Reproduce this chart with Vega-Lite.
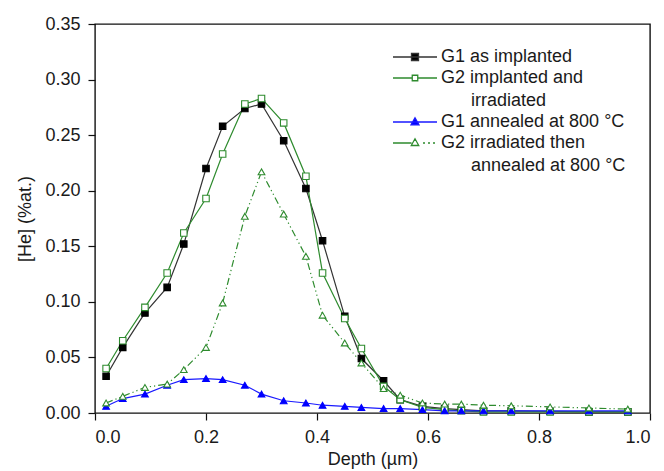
{
  "$schema": "https://vega.github.io/schema/vega-lite/v6.json",
  "width": 555,
  "height": 389,
  "autosize": {"type": "none"},
  "padding": {"left": 95, "top": 24, "right": 14, "bottom": 58},
  "background": "#ffffff",
  "data": {
    "values": [
      {"series": "G1 as implanted", "depth": 0.02, "he": 0.033},
      {"series": "G1 as implanted", "depth": 0.05, "he": 0.059},
      {"series": "G1 as implanted", "depth": 0.09, "he": 0.090},
      {"series": "G1 as implanted", "depth": 0.13, "he": 0.113},
      {"series": "G1 as implanted", "depth": 0.16, "he": 0.152},
      {"series": "G1 as implanted", "depth": 0.20, "he": 0.220},
      {"series": "G1 as implanted", "depth": 0.23, "he": 0.258},
      {"series": "G1 as implanted", "depth": 0.27, "he": 0.274},
      {"series": "G1 as implanted", "depth": 0.30, "he": 0.278},
      {"series": "G1 as implanted", "depth": 0.34, "he": 0.245},
      {"series": "G1 as implanted", "depth": 0.38, "he": 0.202},
      {"series": "G1 as implanted", "depth": 0.41, "he": 0.155},
      {"series": "G1 as implanted", "depth": 0.45, "he": 0.087},
      {"series": "G1 as implanted", "depth": 0.48, "he": 0.049},
      {"series": "G1 as implanted", "depth": 0.52, "he": 0.029},
      {"series": "G1 as implanted", "depth": 0.55, "he": 0.012},
      {"series": "G1 as implanted", "depth": 0.59, "he": 0.006},
      {"series": "G1 as implanted", "depth": 0.63, "he": 0.004},
      {"series": "G1 as implanted", "depth": 0.66, "he": 0.003},
      {"series": "G1 as implanted", "depth": 0.70, "he": 0.002},
      {"series": "G1 as implanted", "depth": 0.75, "he": 0.002},
      {"series": "G1 as implanted", "depth": 0.82, "he": 0.0015},
      {"series": "G1 as implanted", "depth": 0.89, "he": 0.001},
      {"series": "G1 as implanted", "depth": 0.96, "he": 0.001},
      {"series": "G2 implanted and irradiated", "depth": 0.02, "he": 0.040},
      {"series": "G2 implanted and irradiated", "depth": 0.05, "he": 0.065},
      {"series": "G2 implanted and irradiated", "depth": 0.09, "he": 0.095},
      {"series": "G2 implanted and irradiated", "depth": 0.13, "he": 0.126},
      {"series": "G2 implanted and irradiated", "depth": 0.16, "he": 0.162},
      {"series": "G2 implanted and irradiated", "depth": 0.20, "he": 0.193},
      {"series": "G2 implanted and irradiated", "depth": 0.23, "he": 0.233},
      {"series": "G2 implanted and irradiated", "depth": 0.27, "he": 0.278},
      {"series": "G2 implanted and irradiated", "depth": 0.30, "he": 0.283},
      {"series": "G2 implanted and irradiated", "depth": 0.34, "he": 0.261},
      {"series": "G2 implanted and irradiated", "depth": 0.38, "he": 0.213},
      {"series": "G2 implanted and irradiated", "depth": 0.41, "he": 0.126},
      {"series": "G2 implanted and irradiated", "depth": 0.45, "he": 0.085},
      {"series": "G2 implanted and irradiated", "depth": 0.48, "he": 0.058},
      {"series": "G2 implanted and irradiated", "depth": 0.52, "he": 0.024},
      {"series": "G2 implanted and irradiated", "depth": 0.55, "he": 0.012},
      {"series": "G2 implanted and irradiated", "depth": 0.59, "he": 0.005},
      {"series": "G2 implanted and irradiated", "depth": 0.63, "he": 0.003},
      {"series": "G2 implanted and irradiated", "depth": 0.66, "he": 0.002},
      {"series": "G2 implanted and irradiated", "depth": 0.70, "he": 0.001},
      {"series": "G2 implanted and irradiated", "depth": 0.75, "he": 0.001},
      {"series": "G2 implanted and irradiated", "depth": 0.82, "he": 0.001},
      {"series": "G2 implanted and irradiated", "depth": 0.89, "he": 0.001},
      {"series": "G2 implanted and irradiated", "depth": 0.96, "he": 0.001},
      {"series": "G1 annealed at 800 °C", "depth": 0.02, "he": 0.006},
      {"series": "G1 annealed at 800 °C", "depth": 0.05, "he": 0.013},
      {"series": "G1 annealed at 800 °C", "depth": 0.09, "he": 0.017},
      {"series": "G1 annealed at 800 °C", "depth": 0.13, "he": 0.025},
      {"series": "G1 annealed at 800 °C", "depth": 0.16, "he": 0.030},
      {"series": "G1 annealed at 800 °C", "depth": 0.20, "he": 0.031},
      {"series": "G1 annealed at 800 °C", "depth": 0.23, "he": 0.030},
      {"series": "G1 annealed at 800 °C", "depth": 0.27, "he": 0.025},
      {"series": "G1 annealed at 800 °C", "depth": 0.30, "he": 0.017},
      {"series": "G1 annealed at 800 °C", "depth": 0.34, "he": 0.011},
      {"series": "G1 annealed at 800 °C", "depth": 0.38, "he": 0.009},
      {"series": "G1 annealed at 800 °C", "depth": 0.41, "he": 0.007},
      {"series": "G1 annealed at 800 °C", "depth": 0.45, "he": 0.006},
      {"series": "G1 annealed at 800 °C", "depth": 0.48, "he": 0.005},
      {"series": "G1 annealed at 800 °C", "depth": 0.52, "he": 0.004},
      {"series": "G1 annealed at 800 °C", "depth": 0.55, "he": 0.004},
      {"series": "G1 annealed at 800 °C", "depth": 0.59, "he": 0.003},
      {"series": "G1 annealed at 800 °C", "depth": 0.63, "he": 0.002},
      {"series": "G1 annealed at 800 °C", "depth": 0.66, "he": 0.002},
      {"series": "G1 annealed at 800 °C", "depth": 0.70, "he": 0.002},
      {"series": "G1 annealed at 800 °C", "depth": 0.75, "he": 0.002},
      {"series": "G1 annealed at 800 °C", "depth": 0.82, "he": 0.002},
      {"series": "G1 annealed at 800 °C", "depth": 0.89, "he": 0.002},
      {"series": "G1 annealed at 800 °C", "depth": 0.96, "he": 0.002},
      {"series": "G2 irradiated then annealed at 800 °C", "depth": 0.02, "he": 0.009},
      {"series": "G2 irradiated then annealed at 800 °C", "depth": 0.05, "he": 0.015},
      {"series": "G2 irradiated then annealed at 800 °C", "depth": 0.09, "he": 0.023},
      {"series": "G2 irradiated then annealed at 800 °C", "depth": 0.13, "he": 0.026},
      {"series": "G2 irradiated then annealed at 800 °C", "depth": 0.16, "he": 0.039},
      {"series": "G2 irradiated then annealed at 800 °C", "depth": 0.20, "he": 0.059},
      {"series": "G2 irradiated then annealed at 800 °C", "depth": 0.23, "he": 0.099},
      {"series": "G2 irradiated then annealed at 800 °C", "depth": 0.27, "he": 0.177},
      {"series": "G2 irradiated then annealed at 800 °C", "depth": 0.30, "he": 0.217},
      {"series": "G2 irradiated then annealed at 800 °C", "depth": 0.34, "he": 0.179},
      {"series": "G2 irradiated then annealed at 800 °C", "depth": 0.38, "he": 0.141},
      {"series": "G2 irradiated then annealed at 800 °C", "depth": 0.41, "he": 0.088},
      {"series": "G2 irradiated then annealed at 800 °C", "depth": 0.45, "he": 0.063},
      {"series": "G2 irradiated then annealed at 800 °C", "depth": 0.48, "he": 0.045},
      {"series": "G2 irradiated then annealed at 800 °C", "depth": 0.52, "he": 0.022},
      {"series": "G2 irradiated then annealed at 800 °C", "depth": 0.55, "he": 0.016},
      {"series": "G2 irradiated then annealed at 800 °C", "depth": 0.59, "he": 0.009},
      {"series": "G2 irradiated then annealed at 800 °C", "depth": 0.63, "he": 0.008},
      {"series": "G2 irradiated then annealed at 800 °C", "depth": 0.66, "he": 0.008},
      {"series": "G2 irradiated then annealed at 800 °C", "depth": 0.70, "he": 0.007},
      {"series": "G2 irradiated then annealed at 800 °C", "depth": 0.75, "he": 0.0065},
      {"series": "G2 irradiated then annealed at 800 °C", "depth": 0.82, "he": 0.0055},
      {"series": "G2 irradiated then annealed at 800 °C", "depth": 0.89, "he": 0.0045},
      {"series": "G2 irradiated then annealed at 800 °C", "depth": 0.96, "he": 0.0035}
    ]
  },
  "encoding": {
    "x": {
      "field": "depth", "type": "quantitative",
      "scale": {"domain": [0, 1], "nice": false, "zero": false},
      "axis": {"values": [0, 0.2, 0.4, 0.6, 0.8, 1.0], "format": ".1f", "title": "Depth (µm)"}
    },
    "y": {
      "field": "he", "type": "quantitative",
      "scale": {"domain": [0, 0.35], "nice": false},
      "axis": {"values": [0, 0.05, 0.1, 0.15, 0.2, 0.25, 0.3, 0.35], "format": ".2f", "title": "[He] (%at.)"}
    }
  },
  "layer": [
    {
      "transform": [{"filter": "datum.series !== 'G2 irradiated then annealed at 800 °C'"}],
      "mark": {"type": "line", "strokeWidth": 1.2},
      "encoding": {
        "color": {
          "field": "series", "type": "nominal",
          "scale": {
            "domain": ["G1 as implanted", "G2 implanted and irradiated", "G1 annealed at 800 °C", "G2 irradiated then annealed at 800 °C"],
            "range": ["#333333", "#2e8b2e", "#1a1aff", "#2e8b2e"]
          },
          "legend": {
            "title": null,
            "orient": "none",
            "legendX": 294,
            "legendY": 24,
            "labelFont": "Liberation Sans",
            "labelFontSize": 18,
            "labelColor": "#1a1a1a",
            "labelLimit": 0,
            "labelOffset": 34,
            "rowPadding": 3,
            "symbolSize": 100,
            "symbolStrokeWidth": 1.3,
            "labelExpr": "datum.value === 'G2 implanted and irradiated' ? ['G2 implanted and', '\u200b\u00a0\u00a0\u00a0\u00a0\u00a0\u00a0irradiated'] : datum.value === 'G2 irradiated then annealed at 800 °C' ? ['G2 irradiated then', '\u200b\u00a0\u00a0\u00a0\u00a0\u00a0\u00a0annealed at 800 °C'] : datum.label",
            "encode": {
              "symbols": {
                "update": {
                  "shape": {"signal": "datum.value === 'G1 as implanted' ? 'M-1,0H7.8M2.7,-0.7H4.1V0.7H2.7Z' : datum.value === 'G2 implanted and irradiated' ? 'M-1,0H2.85M3.95,0H7.8M2.85,-0.55H3.95V0.55H2.85Z' : datum.value === 'G1 annealed at 800 °C' ? 'M-1,0H7.8M3.4,-0.85L4.2,0.55H2.6Z' : 'M-1,0H2.7M5.0,0H5.4M6.0,0H6.4M7.0,0H7.4M3.4,-0.85L4.15,0.5H2.65Z'"},
                  "fill": {"signal": "datum.value === 'G1 as implanted' ? '#000000' : datum.value === 'G1 annealed at 800 °C' ? '#0000ff' : '#ffffff'"},
                  "strokeWidth": {"value": 1.3},
                  "opacity": {"value": 1},
                  "fillOpacity": {"value": 1},
                  "strokeOpacity": {"value": 1}
                }
              },
              "labels": {
                "update": {
                  "lineHeight": {"value": 22.5}
                }
              }
            }
          }
        }
      }
    },
    {
      "transform": [{"filter": "datum.series === 'G2 irradiated then annealed at 800 °C'"}],
      "mark": {"type": "line", "strokeWidth": 1.2, "color": "#2e8b2e", "strokeDash": [7, 3, 1.2, 3, 1.2, 3]},
      "encoding": {}
    },
    {
      "transform": [{"filter": "datum.series === 'G1 as implanted'"}],
      "mark": {"type": "point", "shape": "square", "size": 42, "strokeWidth": 1.1, "opacity": 1, "filled": true, "fill": "#000000", "stroke": "#000000"},
      "encoding": {}
    },
    {
      "transform": [{"filter": "datum.series === 'G2 implanted and irradiated'"}],
      "mark": {"type": "point", "shape": "square", "size": 42, "strokeWidth": 1.1, "opacity": 1, "filled": true, "fill": "#ffffff", "stroke": "#2e8b2e"},
      "encoding": {}
    },
    {
      "transform": [{"filter": "datum.series === 'G1 annealed at 800 °C'"}],
      "mark": {"type": "point", "shape": "triangle-up", "size": 45, "strokeWidth": 1.1, "opacity": 1, "filled": true, "fill": "#0000ff", "stroke": "#0000ff"},
      "encoding": {}
    },
    {
      "transform": [{"filter": "datum.series === 'G2 irradiated then annealed at 800 °C'"}],
      "mark": {"type": "point", "shape": "triangle-up", "size": 45, "strokeWidth": 1.1, "opacity": 1, "filled": true, "fill": "#ffffff", "stroke": "#2e8b2e"},
      "encoding": {}
    }
  ],
  "config": {
    "view": {"stroke": "#111111", "strokeWidth": 1.4},
    "font": "Liberation Sans",
    "axis": {
      "grid": false,
      "domain": false,
      "tickColor": "#111111",
      "tickSize": 7,
      "tickWidth": 1.2,
      "labelFont": "Liberation Sans",
      "labelFontSize": 18,
      "labelColor": "#1a1a1a",
      "titleFont": "Liberation Sans",
      "titleFontSize": 18,
      "titleFontWeight": "normal",
      "titleColor": "#1a1a1a"
    },
    "axisX": {"labelPadding": 8, "titlePadding": 4},
    "axisY": {"labelPadding": 8, "titlePadding": 10}
  }
}
